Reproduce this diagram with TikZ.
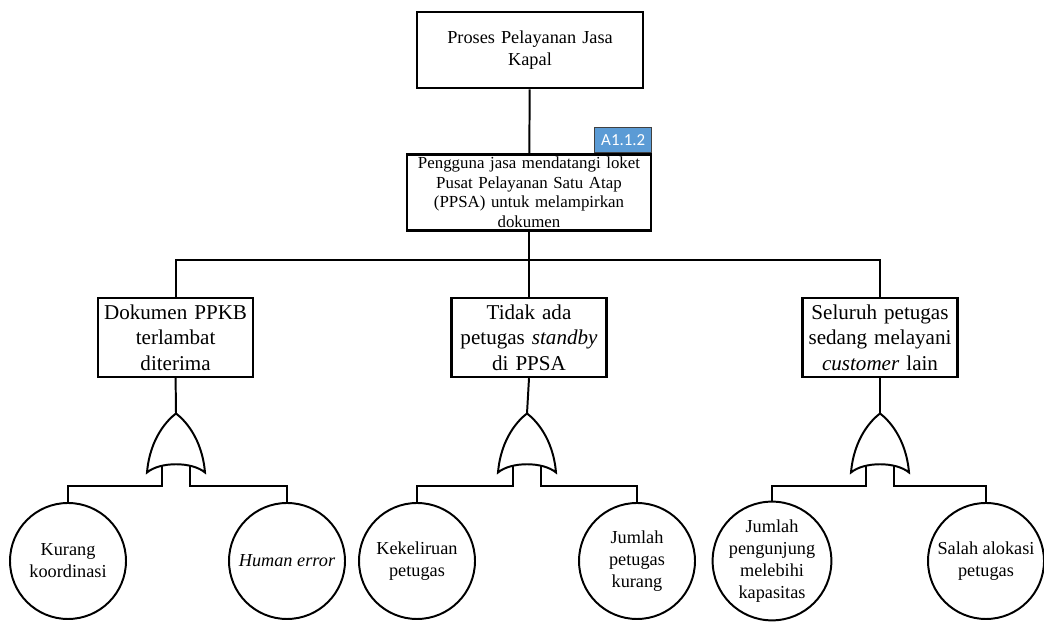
\documentclass[tikz,border=0pt]{standalone}
\usepackage{fontspec}
\setmainfont{Liberation Serif}
\newfontfamily\tagfont{Carlito}
\usetikzlibrary{positioning}
\definecolor{tagblue}{HTML}{5B9BD5}

\begin{document}
\begin{tikzpicture}[
  box/.style={draw,line width=1.6pt,fill=white,align=center,inner sep=0pt},
  lvl/.style={box,text width=3.875cm,minimum height=1.975cm,font=\fontsize{15}{18}\selectfont},
  ev/.style={draw,circle,line width=1.4pt,fill=white,minimum size=2.9cm,inner sep=0pt,align=center,font=\fontsize{13}{15.5}\selectfont},
  ln/.style={line width=1.4pt},
  tag/.style={draw=black!75,line width=0.6pt,fill=tagblue,text=white,inner sep=0pt,minimum width=1.425cm,minimum height=0.625cm,font=\tagfont\fontsize{12}{14}\selectfont}]
  \useasboundingbox (0,0) rectangle (26.1,15.6);
  \node[box,line width=2pt,text width=5.65cm,minimum height=1.9cm,font=\fontsize{13}{16}\selectfont] (top) at (13.25,14.35) {Proses Pelayanan Jasa\\Kapal};
  \node[box,text width=6.1cm,minimum height=1.9cm,font=\fontsize{12}{14}\selectfont] (mid) at (13.225,10.79) {Pengguna jasa mendatangi loket\\Pusat Pelayanan Satu Atap\\(PPSA) untuk melampirkan\\dokumen};
  \node[tag,anchor=south east] (id) at (mid.north east) {A1.1.2};
  \draw[ln] (top) -- (mid);
  \node[lvl] (e1) at (4.39,7.16) {Dokumen PPKB\\terlambat\\diterima};
  \node[lvl] (e2) at (13.225,7.16) {Tidak ada\\petugas \textit{standby}\\di PPSA};
  \node[lvl] (e3) at (22,7.16) {Seluruh petugas\\sedang melayani\\\textit{customer} lain};
  \coordinate (j) at (13.225,9.1);
  \draw[ln] (mid) -- (j);
  \draw[ln] (e1.north) |- (j) -| (e3.north);
  \draw[ln] (j) -- (e2.north);
  \node[ev] (c11) at (1.7,1.575) {Kurang\\koordinasi};
  \node[ev] (c12) at (7.175,1.575) {\textit{Human error}};
  \node[ev] (c21) at (10.425,1.575) {Kekeliruan\\petugas};
  \node[ev] (c22) at (15.925,1.575) {Jumlah\\petugas\\kurang};
  \node[ev] (c31) at (19.3,1.575) {Jumlah\\pengunjung\\melebihi\\kapasitas};
  \node[ev] (c32) at (24.65,1.575) {Salah alokasi\\petugas};
  \foreach \i/\x in {1/4.4,2/13.175,3/22} {
    \coordinate (g\i) at (\x,5.2625);
    \coordinate (l\i) at (\x-0.36,3.45);
    \coordinate (r\i) at (\x+0.36,3.45);
    \draw[ln] (e\i.south) -- (g\i);
    \draw[ln] (c\i1.north) |- (l\i) -- ++(0,0.6);
    \draw[ln] (c\i2.north) |- (r\i) -- ++(0,0.6);
    \begin{scope}[shift={(g\i)}]
      \draw[ln,fill=white] (0,0) .. controls (-0.2,-0.15) and (-0.65,-0.6) .. (-0.725,-1.475)
        .. controls (-0.4,-1.2) and (0.4,-1.2) .. (0.725,-1.475)
        .. controls (0.65,-0.6) and (0.2,-0.15) .. (0,0) -- cycle;
    \end{scope}
  }
\end{tikzpicture}
\end{document}
